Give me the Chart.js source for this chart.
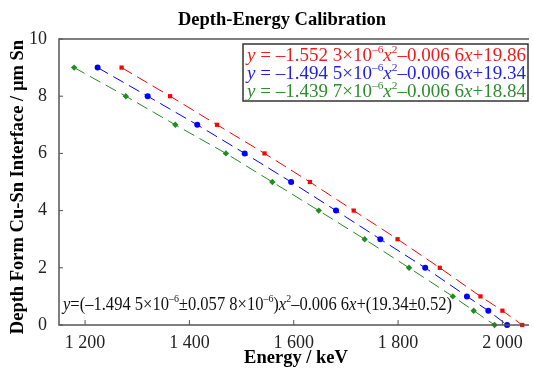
<!DOCTYPE html>
<html>
<head>
<meta charset="utf-8">
<script src="https://cdn.jsdelivr.net/npm/chart.js@4.4.1/dist/chart.umd.min.js"></script>
<style>
  html, body { margin: 0; padding: 0; background: #fff; }
  #wrap { width: 533px; height: 368px; }
</style>
</head>
<body>
<div id="wrap"><canvas id="chart" width="533" height="368"></canvas></div>
<script>
// depth levels (µm Sn) and measured energies (keV) for the three calibrations
var depth = [9, 8, 7, 6, 5, 4, 3, 2, 1, 0.5, 0];
var energyRed = [1270, 1363, 1453, 1544, 1631, 1715, 1799, 1880, 1958, 2000, 2038];
var energyBlue = [1224, 1320, 1415, 1506, 1595, 1681, 1766, 1852, 1932, 1973, 2009];
var energyGreen = [1179, 1278, 1373, 1470, 1559, 1648, 1736, 1821, 1905, 1945, 1985];
var xTicks = [1200, 1400, 1600, 1800, 2000];
var yTicks = [0, 2, 4, 6, 8, 10];

var SERIF = '"Liberation Serif", "Times New Roman", serif';

function pts(xs, ys){
  return xs.map(function(x, i){ return {x: x, y: ys[i]}; });
}

function fmt(v){
  var s = String(v);
  return s.length > 3 ? s.slice(0, s.length - 3) + ' ' + s.slice(-3) : s;
}

function runFont(r, size){
  var sz = r[1] === 's' ? size * 0.6 : size;
  return (r[1] === 'i' ? 'italic ' : '') + sz + 'px ' + SERIF;
}

// draw text made of runs: [text, style] with style '' | 'i' | 's'
// if width is given the whole line is squeezed to fit it
function drawRich(ctx, runs, x, y, size, color, width){
  var total = 0;
  runs.forEach(function(r){ ctx.font = runFont(r, size); total += ctx.measureText(r[0]).width; });
  var k = width ? width / total : 1;
  ctx.save();
  ctx.translate(x, y);
  ctx.scale(k, 1);
  ctx.fillStyle = color;
  ctx.textBaseline = 'middle';
  ctx.textAlign = 'left';
  var cx = 0;
  runs.forEach(function(r){
    var dy = r[1] === 's' ? -size * 0.32 : 0;
    ctx.font = runFont(r, size);
    ctx.fillText(r[0], cx, dy);
    cx += ctx.measureText(r[0]).width;
  });
  ctx.restore();
}

var legendLines = [
  {color: '#ee1c1c', runs: [['y', 'i'], [' = \u20131.552 3\u00d710', ''], ['\u20136', 's'], ['x', 'i'], ['2', 's'], ['\u20130.006 6', ''], ['x', 'i'], ['+19.86', '']]},
  {color: '#1f1fe6', runs: [['y', 'i'], [' = \u20131.494 5\u00d710', ''], ['\u20136', 's'], ['x', 'i'], ['2', 's'], ['\u20130.006 6', ''], ['x', 'i'], ['+19.34', '']]},
  {color: '#2e8b2e', runs: [['y', 'i'], [' = \u20131.439 7\u00d710', ''], ['\u20136', 's'], ['x', 'i'], ['2', 's'], ['\u20130.006 6', ''], ['x', 'i'], ['+18.84', '']]}
];
var fitText = [['y', 'i'], ['=(\u20131.494 5\u00d710', ''], ['\u20136', 's'], ['\u00b10.057 8\u00d710', ''], ['\u20136', 's'], [')', ''], ['x', 'i'], ['2', 's'], ['\u20130.006 6', ''], ['x', 'i'], ['+(19.34\u00b10.52)', '']];

var decor = {
  id: 'decor',
  afterDraw: function(chart){
    var ctx = chart.ctx, a = chart.chartArea;
    var xs = chart.scales.x, ys = chart.scales.y;
    ctx.save();
    // frame: left, bottom, top
    ctx.strokeStyle = '#555';
    ctx.lineWidth = 1.5;
    ctx.beginPath();
    ctx.moveTo(a.right, a.top); ctx.lineTo(a.left, a.top);
    ctx.lineTo(a.left, a.bottom); ctx.lineTo(a.right, a.bottom);
    ctx.stroke();
    // inward ticks
    ctx.lineWidth = 1;
    ctx.beginPath();
    xTicks.forEach(function(v){
      var px = xs.getPixelForValue(v);
      ctx.moveTo(px, a.bottom); ctx.lineTo(px, a.bottom - 5);
    });
    yTicks.forEach(function(v){
      var py = ys.getPixelForValue(v);
      ctx.moveTo(a.left, py); ctx.lineTo(a.left + 4, py);
    });
    ctx.stroke();
    // title and axis titles
    ctx.fillStyle = '#000';
    ctx.textAlign = 'center';
    ctx.textBaseline = 'middle';
    ctx.font = 'bold 18.5px ' + SERIF;
    ctx.fillText('Depth-Energy Calibration', 282, 20);
    ctx.fillText('Energy / keV', 296, 358);
    ctx.translate(18, 187);
    ctx.rotate(-Math.PI / 2);
    ctx.fillText('Depth Form Cu-Sn Interface / \u00b5m Sn', 0, 0);
    ctx.restore();

    // legend box with fit equations
    ctx.save();
    ctx.fillStyle = '#fff';
    ctx.fillRect(243, 44, 285, 57);
    ctx.strokeStyle = '#333';
    ctx.lineWidth = 1.5;
    ctx.strokeRect(243, 44, 285, 57);
    legendLines.forEach(function(l, i){
      drawRich(ctx, l.runs, 247, 56 + i * 18, 19, l.color, 279);
    });
    drawRich(ctx, fitText, 63, 305, 18.5, '#111', 389);
    ctx.restore();
  }
};

function series(data, color, shape, r){
  return {
    data: data,
    borderColor: color,
    backgroundColor: color,
    borderWidth: 1,
    borderDash: [12, 6],
    pointStyle: shape,
    pointRadius: r,
    pointBorderWidth: 0,
    tension: 0,
    fill: false
  };
}

new Chart(document.getElementById('chart'), {
  type: 'line',
  data: {
    datasets: [
      series(pts(energyRed, depth), '#ff0000', 'rect', 3),
      series(pts(energyBlue, depth), '#0000ff', 'circle', 3),
      series(pts(energyGreen, depth), '#228b22', 'rectRot', 3.2)
    ]
  },
  options: {
    responsive: false,
    animation: false,
    clip: false,
    layout: { padding: { top: 39, left: 0, right: 0, bottom: 0 } },
    plugins: { legend: { display: false }, title: { display: false }, tooltip: { enabled: false } },
    scales: {
      x: {
        type: 'linear',
        min: 1150,
        max: 2051,
        grid: { display: false },
        border: { display: false },
        afterBuildTicks: function(s){ s.ticks = xTicks.map(function(v){ return {value: v}; }); },
        afterFit: function(s){ s.height = 43; },
        ticks: {
          maxRotation: 0,
          padding: -1,
          color: '#222',
          font: { family: SERIF, size: 18 },
          callback: function(v){ return fmt(v); }
        }
      },
      y: {
        min: 0,
        max: 10,
        grid: { display: false },
        border: { display: false },
        afterBuildTicks: function(s){ s.ticks = yTicks.map(function(v){ return {value: v}; }); },
        afterFit: function(s){ s.width = 59; },
        ticks: {
          padding: 4,
          color: '#222',
          font: { family: SERIF, size: 18 }
        }
      }
    }
  },
  plugins: [decor]
});
</script>
</body>
</html>
